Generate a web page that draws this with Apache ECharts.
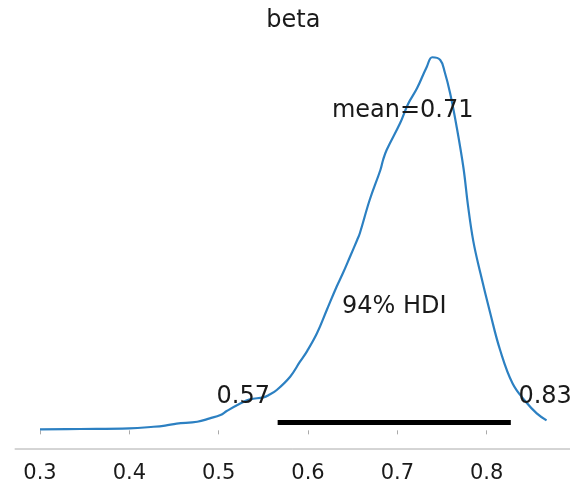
<!DOCTYPE html>
<html>
<head>
<meta charset="utf-8">
<script src="https://cdn.jsdelivr.net/npm/echarts@6/dist/echarts.min.js"></script>
<style>
  html, body { margin: 0; padding: 0; background: #ffffff; }
  #chart { width: 570px; height: 486px; }
</style>
</head>
<body>
<div id="chart"></div>
<script>
// Posterior density of beta (KDE), x = parameter value, y = density
const betaValues = [0.300, 0.345, 0.400, 0.427, 0.440, 0.453, 0.476, 0.490, 0.502, 0.509,
  0.521, 0.535, 0.550, 0.557, 0.565, 0.580, 0.591, 0.599, 0.610, 0.621,
  0.632, 0.639, 0.647, 0.655, 0.658, 0.669, 0.681, 0.684, 0.688, 0.703,
  0.712, 0.722, 0.733, 0.739, 0.748, 0.753, 0.759, 0.766, 0.774, 0.779,
  0.785, 0.793, 0.804, 0.815, 0.829, 0.844, 0.856, 0.867];
const betaDensity = [0.015, 0.020, 0.030, 0.054, 0.072, 0.102, 0.129, 0.180, 0.230, 0.290,
  0.380, 0.465, 0.495, 0.537, 0.605, 0.805, 1.030, 1.190, 1.456, 1.806,
  2.156, 2.357, 2.606, 2.857, 2.958, 3.457, 3.908, 4.058, 4.208, 4.609,
  4.899, 5.134, 5.459, 5.600, 5.559, 5.379, 5.064, 4.584, 3.938, 3.380,
  2.840, 2.357, 1.757, 1.206, 0.703, 0.425, 0.255, 0.150];

// Summary statistics
const meanValue = 0.706;
const hdiProb = 94;
const hdiLow = 0.566;
const hdiHigh = 0.827;

// Tick labels shown on the x axis
const tickValues = [0.3, 0.4, 0.5, 0.6, 0.7, 0.8];

const varName = 'beta';

// Axis limits: data range with 5% margins on each side
const xSpan = betaValues[betaValues.length - 1] - betaValues[0];
const xLimLo = betaValues[0] - 0.05 * xSpan;
const xLimHi = betaValues[betaValues.length - 1] + 0.05 * xSpan;
const peak = Math.max.apply(null, betaDensity);
const yMin = -0.05 * peak;
const plotHeight = 1.05 * peak;

const FONT = '"DejaVu Sans", "Liberation Sans", sans-serif';
const TEXT = '#1a1a1a';
const SPINE = '#aaaaaa';

const curve = betaValues.map((v, i) => [v, betaDensity[i]]);

const chart = echarts.init(document.getElementById('chart'), null, { renderer: 'canvas' });

chart.setOption({
  animation: false,
  backgroundColor: '#ffffff',
  grid: {
    left: -49.34,
    right: -6.04,
    top: 38.6,
    bottom: 37,
    containLabel: false,
    outerBoundsMode: 'none'
  },
  xAxis: {
    type: 'value',
    min: 0.2,
    max: 0.9,
    interval: 0.1,
    axisLine: { show: false },
    axisTick: { show: true, length: 4, lineStyle: { color: SPINE, width: 1 } },
    splitLine: { show: false },
    axisLabel: {
      margin: 14,
      fontSize: 21,
      fontFamily: FONT,
      color: TEXT,
      formatter: function (v) {
        const hit = tickValues.find(t => Math.abs(t - v) < 1e-9);
        return hit === undefined ? '' : hit.toFixed(1);
      }
    }
  },
  yAxis: {
    type: 'value',
    min: yMin,
    max: plotHeight,
    show: false
  },
  series: [
    {
      // bottom spine spanning the x limits
      type: 'line',
      data: [[xLimLo, yMin], [xLimHi, yMin]],
      clip: false,
      silent: true,
      showSymbol: false,
      lineStyle: { color: SPINE, width: 1 },
      z: 1
    },
    {
      type: 'line',
      data: curve,
      showSymbol: false,
      smooth: 0.4,
      lineStyle: { color: '#2c80c2', width: 2.2 },
      z: 3
    },
    {
      // HDI interval bar
      type: 'line',
      data: [[hdiLow, 0.02 * plotHeight], [hdiHigh, 0.02 * plotHeight]],
      showSymbol: false,
      lineStyle: { color: '#000000', width: 5, cap: 'butt' },
      z: 4
    }
  ]
});

// Text annotations placed in data coordinates (text bottom sits at the anchor)
const annotations = [
  { at: [meanValue, 0.8 * plotHeight], text: 'mean=' + meanValue.toFixed(2), align: 'center' },
  { at: [(hdiLow + hdiHigh) / 2, 0.3 * plotHeight], text: hdiProb + '% HDI', align: 'center' },
  { at: [hdiLow, 0.07 * plotHeight], text: hdiLow.toFixed(2) + ' ', align: 'right' },
  { at: [hdiHigh, 0.07 * plotHeight], text: ' ' + hdiHigh.toFixed(2), align: 'left' }
];

const gridCenterX = chart.convertToPixel({ gridIndex: 0 }, [(xLimLo + xLimHi) / 2, 0])[0];

const graphics = [{
  type: 'text',
  x: gridCenterX,
  y: 21,
  z: 10,
  style: {
    text: varName,
    font: '24px ' + FONT,
    fill: TEXT,
    align: 'center',
    verticalAlign: 'middle'
  }
}];

annotations.forEach(a => {
  const p = chart.convertToPixel({ gridIndex: 0 }, a.at);
  graphics.push({
    type: 'text',
    x: p[0],
    y: p[1] - 6,
    z: 10,
    style: {
      text: a.text,
      font: '24px ' + FONT,
      fill: TEXT,
      align: a.align,
      verticalAlign: 'middle'
    }
  });
});

chart.setOption({ graphic: graphics });
</script>
</body>
</html>
